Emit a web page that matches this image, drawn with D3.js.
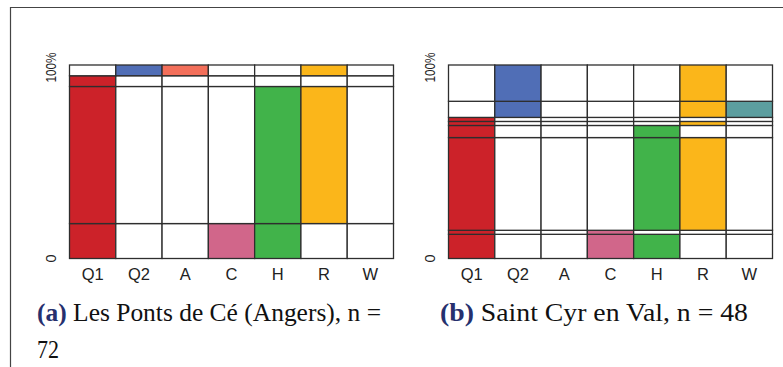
<!DOCTYPE html>
<html>
<head>
<meta charset="utf-8">
<script src="https://cdn.jsdelivr.net/npm/d3@7"></script>
<style>
  html, body { margin: 0; padding: 0; background: #fff; }
  svg { display: block; }
</style>
</head>
<body>
<script>
// Variables shown as columns
const variables = ["Q1", "Q2", "A", "C", "H", "R", "W"];
const variableColors = ["#CC2229", "#506EB6", "#F36F5A", "#D1668A", "#41B34A", "#FBB61A", "#5C9E9F"];

// Les Ponts de Cé: profile groups, listed from bottom to top
const pontsCounts = [13, 51, 4, 4];
const pontsProfiles = [
  [1, 0, 0, 1, 1, 0, 0],
  [1, 0, 0, 0, 1, 1, 0],
  [1, 0, 0, 0, 0, 0, 0],
  [0, 1, 1, 0, 0, 1, 0]
];

// Saint Cyr en Val: profile groups, listed from bottom to top
const cyrCounts = [6, 1, 23, 3, 1, 1, 4, 9];
const cyrProfiles = [
  [1, 0, 0, 1, 1, 0, 0],
  [1, 0, 0, 1, 0, 0, 0],
  [1, 0, 0, 0, 1, 1, 0],
  [1, 0, 0, 0, 1, 0, 0],
  [1, 0, 0, 0, 0, 1, 0],
  [1, 0, 0, 0, 0, 0, 0],
  [0, 1, 0, 0, 0, 1, 1],
  [0, 1, 0, 0, 0, 1, 0]
];

const yTickLabels = ["0", "100%"];

const W = 783, H = 367;
const svg = d3.select("body").append("svg").attr("width", W).attr("height", H);

// page frame
svg.append("path")
  .attr("d", `M10.5,${H} L10.5,7.5 L${W},7.5`)
  .attr("fill", "none").attr("stroke", "#444").attr("stroke-width", 1.2);

const color = d3.scaleOrdinal().domain(variables).range(variableColors);

function drawPanel(left, right, counts, profiles, labelX) {
  const n = d3.sum(counts);
  const x = d3.scaleBand().domain(variables).range([left, right]);
  const y = d3.scaleLinear().domain([0, n]).range([258.5, 65]);
  const starts = d3.cumsum([0].concat(counts));

  const cells = [];
  counts.forEach((c, gi) => {
    variables.forEach((v, vi) => {
      cells.push({ v, lo: starts[gi], hi: starts[gi] + c, on: profiles[gi][vi] === 1 });
    });
  });

  const g = svg.append("g");
  g.selectAll("rect").data(cells).join("rect")
    .attr("x", d => x(d.v))
    .attr("width", x.bandwidth())
    .attr("y", d => y(d.hi))
    .attr("height", d => y(d.lo) - y(d.hi))
    .attr("fill", d => d.on ? color(d.v) : "#fff")
    .attr("stroke", "#2e2e2e")
    .attr("stroke-width", 1.3);

  // column labels
  g.selectAll("text.col").data(variables).join("text")
    .attr("class", "col")
    .attr("x", d => x(d) + x.bandwidth() / 2)
    .attr("y", 280)
    .attr("text-anchor", "middle")
    .attr("font-family", "Liberation Sans, Arial, sans-serif")
    .attr("font-size", 16.5)
    .attr("fill", "#222")
    .text(d => d);

  // vertical scale labels
  const tickVals = [0, n];
  g.selectAll("text.tick").data(tickVals).join("text")
    .attr("class", "tick")
    .attr("transform", (d, i) => `translate(${labelX},${y(d) + (i === 1 ? 2.5 : 0)}) rotate(-90)`)
    .attr("text-anchor", "middle")
    .attr("font-family", "Liberation Sans, Arial, sans-serif")
    .attr("font-size", 14.5)
    .attr("fill", "#222")
    .attr("textLength", (d, i) => i === 1 ? 30 : null)
    .attr("lengthAdjust", "spacingAndGlyphs")
    .text((d, i) => yTickLabels[i]);
}

drawPanel(69.5, 393.5, pontsCounts, pontsProfiles, 55.5);
drawPanel(448.5, 772.5, cyrCounts, cyrProfiles, 434.5);

// subcaptions
const serif = "Liberation Serif, Times New Roman, serif";
function caption(xPos, yPos, tag, rest, width) {
  const t = svg.append("text")
    .attr("x", xPos).attr("y", yPos)
    .attr("font-family", serif)
    .attr("font-size", 25)
    .attr("fill", "#111")
    .attr("textLength", width)
    .attr("lengthAdjust", "spacingAndGlyphs");
  t.append("tspan").attr("font-weight", "bold").attr("fill", "#26306E").text(tag);
  t.append("tspan").text(" " + rest);
}
caption(37, 321, "(a)", "Les Ponts de Cé (Angers), n =", 344);
svg.append("text")
  .attr("x", 37).attr("y", 358)
  .attr("font-family", serif)
  .attr("font-size", 25).attr("fill", "#111")
  .attr("textLength", 22)
  .attr("lengthAdjust", "spacingAndGlyphs")
  .text("72");
caption(440, 321, "(b)", "Saint Cyr en Val, n = 48", 308);
</script>
</body>
</html>
